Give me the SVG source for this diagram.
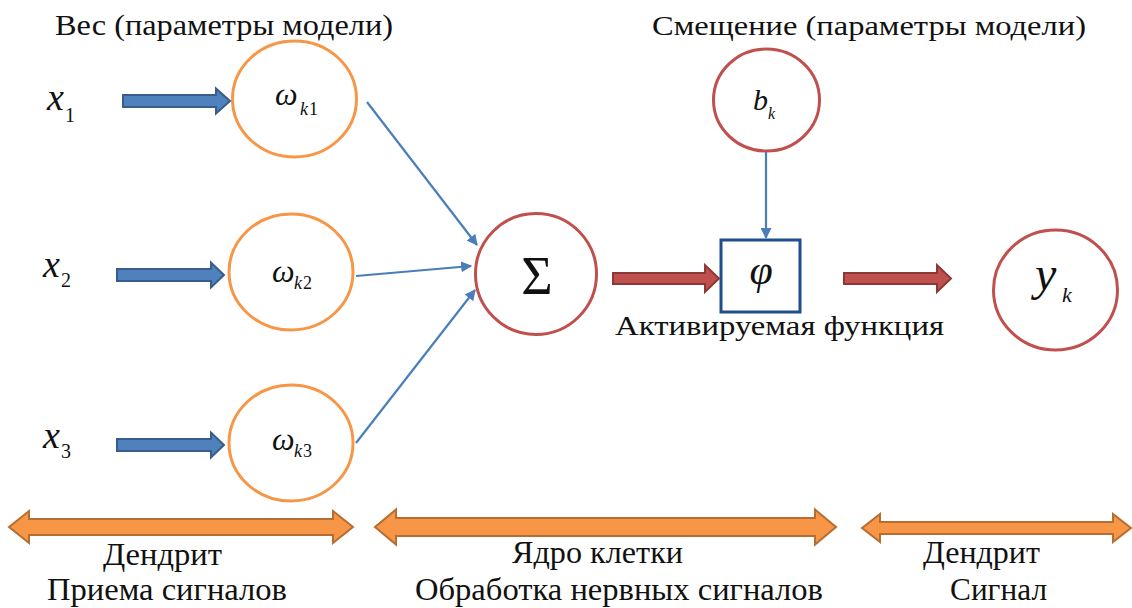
<svg xmlns="http://www.w3.org/2000/svg" width="1132" height="608" viewBox="0 0 1132 608">
<style>
text{font-family:'Liberation Serif','Times New Roman',serif;fill:#111}
.m{font-style:italic}
.oc{fill:#fff;stroke:#F79646;stroke-width:3}
.rc{fill:#fff;stroke:#C0504D;stroke-width:3}
.ba{fill:#4F81BD;stroke:#385D8A;stroke-width:2}
.ra{fill:#C0504D;stroke:#8C3836;stroke-width:2}
.oa{fill:#F79646;stroke:#B66D31;stroke-width:2}
.ln{stroke:#4A7EBB;stroke-width:2.2;fill:none;marker-end:url(#ah)}
</style>
<defs>
<marker id="ah" viewBox="0 0 10 10" refX="9" refY="5" markerWidth="5" markerHeight="5" orient="auto" markerUnits="strokeWidth">
<path d="M0,0 L10,5 L0,10 Z" fill="#4A7EBB"/>
</marker>
</defs>
<rect width="1132" height="608" fill="#fff"/>

<g id="labels-top">
<text x="55" y="35" font-size="29" textLength="338" lengthAdjust="spacingAndGlyphs">Вес (параметры модели)</text>
<text x="652" y="35" font-size="28" textLength="434" lengthAdjust="spacingAndGlyphs">Смещение (параметры модели)</text>
</g>

<g id="x1"><text class="m" x="47" y="110" font-size="38">x</text><text x="65" y="122" font-size="20">1</text></g>
<g id="x2"><text class="m" x="43" y="277" font-size="38">x</text><text x="61" y="287" font-size="20">2</text></g>
<g id="x3"><text class="m" x="43" y="448" font-size="38">x</text><text x="61" y="458" font-size="20">3</text></g>

<g id="w1"><ellipse class="oc" cx="294.5" cy="99" rx="62" ry="58"/><text class="m" x="275" y="105" font-size="32">ω</text><text class="m" x="300" y="115" font-size="18">k</text><text x="309" y="115" font-size="18">1</text></g>
<g id="w2"><ellipse class="oc" cx="291" cy="272" rx="62" ry="58"/><text class="m" x="272" y="282" font-size="32">ω</text><text class="m" x="294" y="289" font-size="18">k</text><text x="303" y="289" font-size="18">2</text></g>
<g id="w3"><ellipse class="oc" cx="291" cy="443" rx="62" ry="58"/><text class="m" x="272" y="450" font-size="32">ω</text><text class="m" x="294" y="457" font-size="18">k</text><text x="303" y="457" font-size="18">3</text></g>

<g id="sum"><circle class="rc" cx="536" cy="274" r="60.5"/><text x="537" y="294" font-size="54" text-anchor="middle">Σ</text></g>

<g id="bias"><ellipse class="rc" cx="766.5" cy="100" rx="53" ry="51"/><text class="m" x="753" y="110" font-size="30">b</text><text class="m" x="768" y="119" font-size="16">k</text></g>

<g id="phi"><rect x="721" y="240" width="79" height="72" fill="#fff" stroke="#1F4E8C" stroke-width="3"/><text class="m" x="761" y="284" font-size="42" text-anchor="middle">φ</text>
<text x="615" y="335" font-size="27" textLength="329" lengthAdjust="spacingAndGlyphs">Активируемая функция</text></g>

<g id="out"><ellipse class="rc" cx="1055.5" cy="290" rx="62" ry="60"/><text class="m" x="1035" y="290" font-size="48">y</text><text class="m" x="1062" y="302" font-size="22">k</text></g>

<g id="connectors">
<path class="ba" d="M123,95 H216 V88.5 L230,101 L216,113.5 V107 H123 Z"/>
<path class="ba" d="M117,269 H211 V262.5 L224,275 L211,287.5 V281 H117 Z"/>
<path class="ba" d="M117,439 H211 V432.5 L224,445 L211,457.5 V451 H117 Z"/>
<path class="ra" d="M613,273 H705 V265 L719,278.5 L705,292 V284 H613 Z"/>
<path class="ra" d="M844,273 H937 V265 L951,278.5 L937,292 V284 H844 Z"/>
<line class="ln" x1="367" y1="102" x2="477" y2="245"/>
<line class="ln" x1="356" y1="276" x2="471" y2="266"/>
<line class="ln" x1="356" y1="443" x2="475" y2="290"/>
<line class="ln" x1="766" y1="152" x2="766" y2="238"/>
</g>

<g id="spans">
<path class="oa" d="M9,527 L29,511 V519 H333 V511 L353,527 L333,543 V535 H29 V543 Z"/>
<path class="oa" d="M375,527 L396,509.5 V518 H815 V509.5 L836,527 L815,544.5 V536 H396 V544.5 Z"/>
<path class="oa" d="M862,528 L880,514 V522 H1113 V514 L1131,528 L1113,542 V534 H880 V542 Z"/>
<text x="103" y="565" font-size="31" textLength="119" lengthAdjust="spacingAndGlyphs">Дендрит</text>
<text x="47" y="600" font-size="31" textLength="240" lengthAdjust="spacingAndGlyphs">Приема сигналов</text>
<text x="512" y="563" font-size="31" textLength="171" lengthAdjust="spacingAndGlyphs">Ядро клетки</text>
<text x="415" y="600" font-size="31" textLength="408" lengthAdjust="spacingAndGlyphs">Обработка нервных сигналов</text>
<text x="923" y="563" font-size="31" textLength="117" lengthAdjust="spacingAndGlyphs">Дендрит</text>
<text x="950" y="600" font-size="31" textLength="97" lengthAdjust="spacingAndGlyphs">Сигнал</text>
</g>
</svg>
